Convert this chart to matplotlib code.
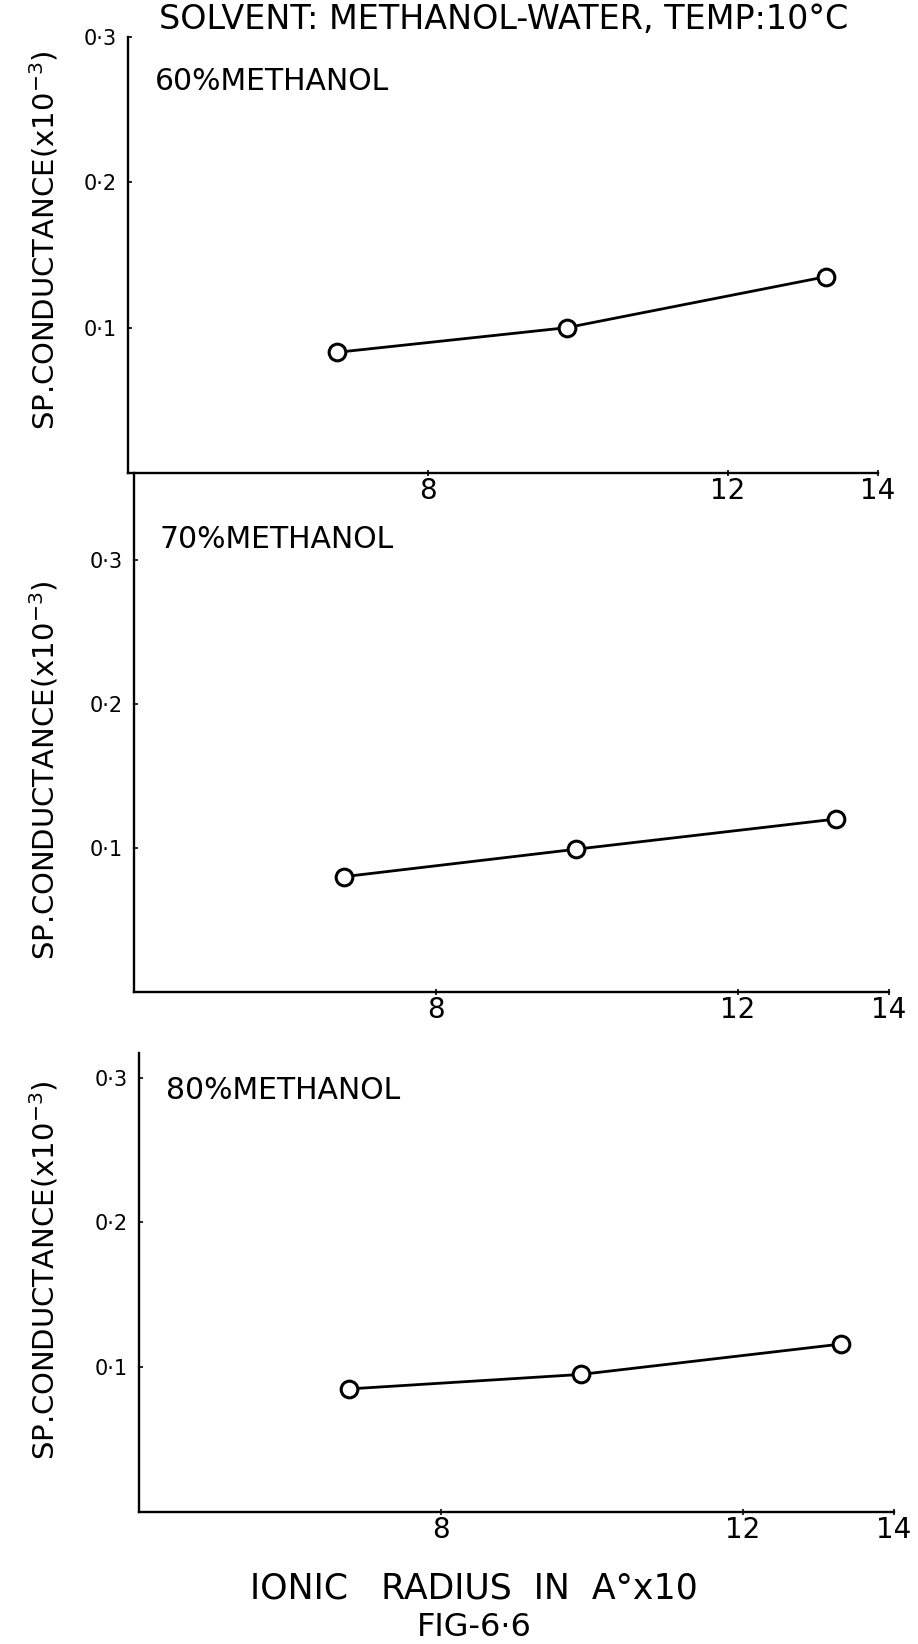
import matplotlib
matplotlib.use("Agg")
import matplotlib.pyplot as plt

# ionic radius (A° x10) and specific conductance (x10^-3) per solvent mix
radius = [6.78, 9.85, 13.3]
cond_60 = [0.083, 0.100, 0.135]
cond_70 = [0.080, 0.099, 0.120]
cond_80 = [0.085, 0.095, 0.116]
mixes = ["60%METHANOL", "70%METHANOL", "80%METHANOL"]
yticks = [0.1, 0.2, 0.3]
ytick_labels = ["0·1", "0·2", "0·3"]
xticks = [8, 12, 14]

W, H = 918, 1644
fig = plt.figure(figsize=(W / 100, H / 100), dpi=100)
fig.patch.set_facecolor("white")


def px(x, y):
    # pixel position (from top-left) -> figure fraction
    return x / W, 1 - y / H


# left, right, bottom, top in pixels
boxes = [(128, 878, 473, 37), (134, 889, 992, 473), (139, 894, 1512, 1053)]
ytops = [0.30, 0.36, 0.317]
label_pos = [(155, 82), (159, 540), (166, 1090)]
ylabel_y = [240, 770, 1270]

for i, cond in enumerate([cond_60, cond_70, cond_80]):
    l, r, b, t = boxes[i]
    ax = fig.add_axes([l / W, 1 - b / H, (r - l) / W, (b - t) / H])
    ax.plot(radius, cond, color="black", lw=2.0, marker="o", ms=12,
            mfc="white", mec="black", mew=2.2, zorder=3)
    ax.set_xlim(4, 14)
    ax.set_ylim(0, ytops[i])
    ax.set_xticks(xticks)
    ax.set_xticklabels([str(v) for v in xticks], fontsize=20)
    ax.set_yticks(yticks)
    ax.set_yticklabels(ytick_labels, fontsize=15)
    for s in ["top", "right"]:
        ax.spines[s].set_visible(False)
    for s in ["left", "bottom"]:
        ax.spines[s].set_linewidth(1.7)
    ax.tick_params(axis="x", length=4, width=1.2, direction="inout", pad=1)
    ax.tick_params(axis="y", length=3, width=1.2, direction="in", pad=8)
    ax.patch.set_alpha(0)

    fig.text(*px(*label_pos[i]), mixes[i], fontsize=21.5, ha="left", va="center")
    fig.text(*px(44, ylabel_y[i]), "SP.CONDUCTANCE(x10$^{-3}$)", fontsize=21,
             rotation=90, ha="center", va="center")

fig.text(*px(159, 29), "SOLVENT: METHANOL-WATER, TEMP:10°C", fontsize=24,
         ha="left", va="baseline")
fig.text(*px(474, 1588), "IONIC   RADIUS  IN  A°x10", fontsize=25,
         ha="center", va="center")
fig.text(*px(474, 1627), "FIG-6·6", fontsize=23, ha="center", va="center")

fig.savefig("out.png", dpi=100)
